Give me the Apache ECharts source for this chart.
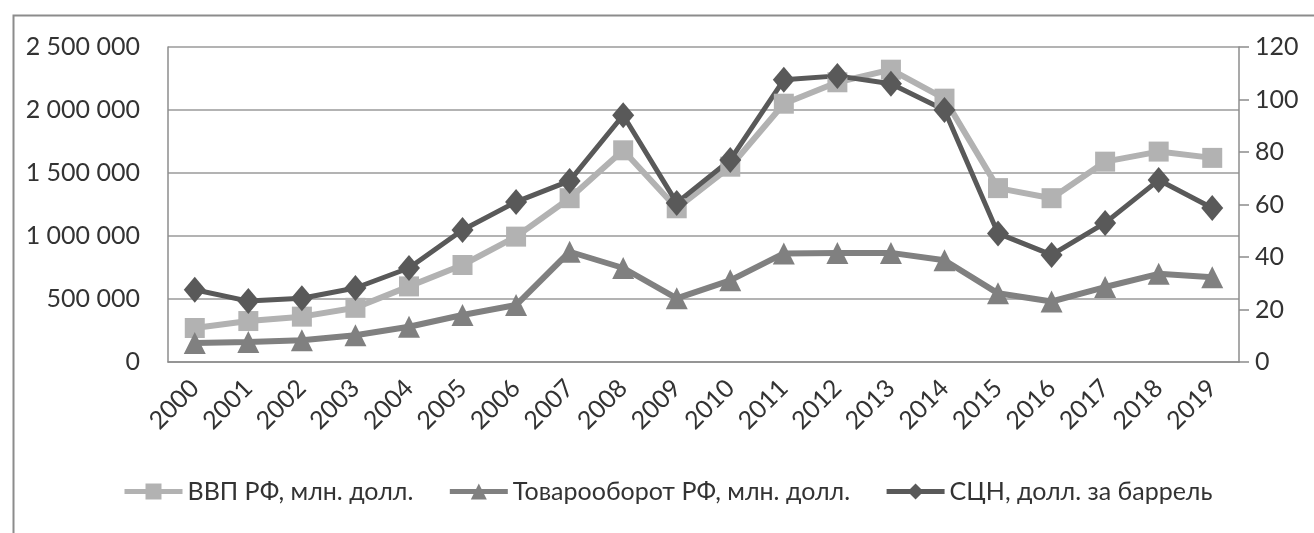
<!DOCTYPE html>
<html>
<head>
  <meta charset="UTF-8"/>
  <title></title>
  <style>
    html, body { margin: 0; padding: 0; background: #fff; }
    #main { width: 1314px; height: 533px; }
  </style>
</head>
<body>
<div id="main"></div>
<script src="https://cdn.jsdelivr.net/npm/echarts@6/dist/echarts.min.js"></script>
<script type="text/javascript">
    // годы
    const years = ['2000', '2001', '2002', '2003', '2004', '2005', '2006', '2007', '2008', '2009',
        '2010', '2011', '2012', '2013', '2014', '2015', '2016', '2017', '2018', '2019'];
    // ВВП РФ, млн. долл.
    const gdp = [270000, 325000, 360000, 430000, 600000, 770000, 995000, 1300000, 1680000, 1220000,
        1550000, 2050000, 2220000, 2320000, 2090000, 1380000, 1300000, 1590000, 1670000, 1620000];
    // Товарооборот РФ, млн. долл.
    const trade = [150000, 158000, 172000, 212000, 280000, 373000, 452000, 875000, 746000, 505000,
        648000, 862000, 866000, 866000, 808000, 545000, 480000, 595000, 700000, 672000];
    // СЦН, долл. за баррель
    const oil = [27.5, 23.2, 24.3, 28.2, 35.8, 50.3, 61, 69, 94, 60.6,
        77, 107.5, 109, 106, 96, 49, 40.8, 53, 69.3, 58.7];

    const seriesNames = ['ВВП РФ, млн. долл.', 'Товарооборот РФ, млн. долл.', 'СЦН, долл. за баррель'];

    const font = 'Lato';
    const textColor = '#333333';

    let myChart = echarts.init(document.getElementById('main'));
    let option = {
        animation: false,
        textStyle: {fontFamily: font},
        graphic: [{
            type: 'rect',
            left: 11, top: 13,
            shape: {width: 1400, height: 600},
            style: {fill: 'none', stroke: '#8c8c8c', lineWidth: 2}
        }],
        grid: {left: 168, right: 75, top: 47, bottom: 171},
        legend: {
            data: seriesNames,
            left: 117,
            top: 474,
            itemWidth: 58,
            itemHeight: 20,
            itemGap: 34,
            lineStyle: {width: 5},
            textStyle: {fontFamily: font, fontSize: 25, color: textColor}
        },
        xAxis: {
            type: 'category',
            data: years,
            boundaryGap: true,
            axisLine: {lineStyle: {color: '#8c8c8c', width: 1.5}},
            axisTick: {show: false},
            axisLabel: {rotate: 45, margin: 22, fontSize: 25, color: textColor, fontFamily: font}
        },
        yAxis: [{
            type: 'value',
            min: 0, max: 2500000, interval: 500000,
            axisLine: {show: true, lineStyle: {color: '#8c8c8c', width: 1.5}},
            axisTick: {show: false},
            splitLine: {lineStyle: {color: '#9a9a9a', width: 1.5}},
            axisLabel: {
                margin: 28, fontSize: 25, color: textColor, fontFamily: font,
                formatter: v => String(v).replace(/\B(?=(\d{3})+(?!\d))/g, ' ')
            }
        }, {
            type: 'value',
            min: 0, max: 120, interval: 20,
            position: 'right',
            axisLine: {show: true, lineStyle: {color: '#8c8c8c', width: 1.5}},
            axisTick: {show: true, inside: false, length: 10, lineStyle: {color: '#8c8c8c', width: 1.5}},
            splitLine: {show: false},
            axisLabel: {margin: 16, fontSize: 25, color: textColor, fontFamily: font}
        }],
        series: [
            {
                name: seriesNames[0],
                type: 'line',
                yAxisIndex: 0,
                data: gdp,
                symbol: 'rect',
                symbolSize: 20,
                color: '#b2b2b2',
                lineStyle: {width: 6, color: '#b2b2b2'},
                itemStyle: {color: '#b2b2b2'}
            },
            {
                name: seriesNames[1],
                type: 'line',
                yAxisIndex: 0,
                data: trade,
                symbol: 'triangle',
                symbolSize: [22, 22],
                color: '#808080',
                lineStyle: {width: 6, color: '#808080'},
                itemStyle: {color: '#808080'}
            },
            {
                name: seriesNames[2],
                type: 'line',
                yAxisIndex: 1,
                data: oil,
                symbol: 'diamond',
                symbolSize: [22, 26],
                color: '#595959',
                lineStyle: {width: 5, color: '#595959'},
                itemStyle: {color: '#595959'}
            }
        ]
    };
    myChart.setOption(option);
</script>
</body>
</html>
